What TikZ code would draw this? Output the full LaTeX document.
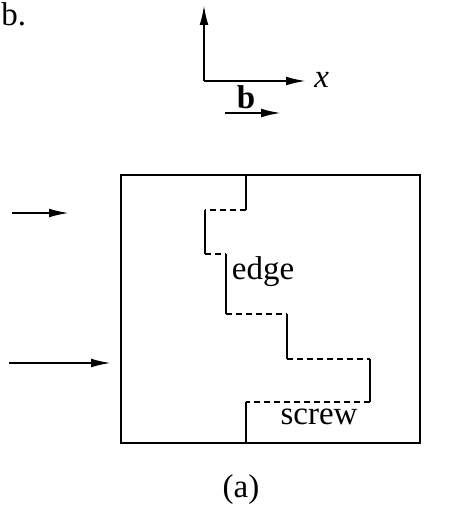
\documentclass[tikz,border=0pt]{standalone}
\usepackage{fontspec}
\setmainfont{Liberation Serif}
\usetikzlibrary{arrows.meta}
\begin{document}
\begin{tikzpicture}[
        x={(0.5pt,0pt)},
        y={(0pt,-0.5pt)},
        line join=miter,
        % styles
        wall/.style={line width=1pt},
        solidstep/.style={line width=1pt},
        dashstep/.style={line width=0.9pt,dash pattern=on 3pt off 2pt},
        arr/.style={line width=1pt,-{Latex[length=10pt,width=4.4pt]}},
        lbl/.style={font=\fontsize{16.5}{18}\selectfont,inner sep=0pt},
    ]
    \useasboundingbox (0,0) rectangle (454,517);

    % axes
    \coordinate (O) at (204,81);
    \coordinate (Ytip) at (204,5);
    \coordinate (Xtip) at (306,81);
    \draw[arr] (O) -- (Ytip);
    \draw[arr] (O) -- (Xtip);
    \node[lbl,anchor=west] (xlab) at (314,80) {\itshape x};

    % Burgers vector
    \node[lbl] (blab) at (246,97) {\bfseries b};
    \coordinate (B0) at (225,113);
    \coordinate (B1) at (281,113);
    \draw[arr] (B0) -- (B1);

    % crystal block
    \coordinate (SW) at (121,443);
    \coordinate (NE) at (420,175);
    \draw[wall] (SW) rectangle (NE);

    % stepped dislocation line
    \coordinate (D0) at (246,175);
    \coordinate (D1) at (246,210);
    \coordinate (D2) at (205,210);
    \coordinate (D3) at (205,254);
    \coordinate (D4) at (226,254);
    \coordinate (D5) at (226,314);
    \coordinate (D6) at (287,314);
    \coordinate (D7) at (287,359);
    \coordinate (D8) at (370,359);
    \coordinate (D9) at (370,402);
    \coordinate (D10) at (246,402);
    \coordinate (D11) at (246,443);
    \draw[solidstep] (D0) -- (D1);
    \draw[dashstep]  (D1) -- (D2);
    \draw[solidstep] (D2) -- (D3);
    \draw[dashstep]  (D3) -- (D4);
    \draw[solidstep] (D4) -- (D5);
    \draw[dashstep]  (D5) -- (D6);
    \draw[solidstep] (D6) -- (D7);
    \draw[dashstep]  (D7) -- (D8);
    \draw[solidstep] (D8) -- (D9);
    \draw[dashstep]  (D9) -- (D10);
    \draw[solidstep] (D10) -- (D11);

    % labels
    \node[lbl] (edge) at (263,272) {edge};
    \node[lbl] (screw) at (319,417) {screw};

    % applied shear arrows
    \coordinate (P0) at (12,213);
    \coordinate (P1) at (69,213);
    \coordinate (Q0) at (9,363);
    \coordinate (Q1) at (111,363);
    \draw[arr] (P0) -- (P1);
    \draw[arr] (Q0) -- (Q1);

    % captions
    \node[lbl] (cap) at (241,490) {(a)};
    \node[lbl,anchor=west] (part) at (1,14) {b.};
\end{tikzpicture}
\end{document}
